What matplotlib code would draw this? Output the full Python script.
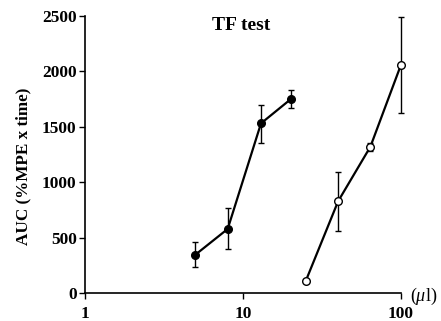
import matplotlib
matplotlib.use("Agg")
import matplotlib.pyplot as plt
from matplotlib.ticker import FixedLocator, NullLocator

# Data
dose_filled = [5, 8, 13, 20]
auc_filled = [346, 578, 1531, 1748]
err_lo_filled = [109, 184, 180, 76]
err_hi_filled = [111, 192, 166, 81]

dose_open = [25, 40, 64, 100]
auc_open = [111, 828, 1320, 2060]
err_lo_open = [0, 268, 35, 433]
err_hi_open = [0, 267, 35, 431]

x_ticks = [1, 10, 100]
x_ticklabels = ["1", "10", "100"]
y_ticks = [0, 500, 1000, 1500, 2000, 2500]

plt.rcParams['font.family'] = ['Liberation Serif', 'DejaVu Serif']
plt.rcParams['mathtext.fontset'] = 'custom'
plt.rcParams['mathtext.it'] = 'Liberation Serif:italic'
plt.rcParams['mathtext.rm'] = 'Liberation Serif'

fig = plt.figure(figsize=(4.41, 3.21), dpi=100)
ax = fig.add_axes([85/441, 1-293/321, (401-85)/441, (293-16)/321])

for d, a, lo, hi, face in [(dose_filled, auc_filled, err_lo_filled, err_hi_filled, 'black'),
                           (dose_open, auc_open, err_lo_open, err_hi_open, 'white')]:
    cont = ax.errorbar(d, a, yerr=[lo, hi],
                       fmt='o-', color='black', mfc=face, mec='black', ms=5.5, mew=1.0, lw=1.6,
                       ecolor='black', elinewidth=1.0, capsize=2.2, capthick=1.0, zorder=3)
    for art in cont.get_children():
        art.set_clip_on(False)

ax.set_xscale('log')
ax.set_xlim(1, 100)
ax.set_ylim(0, 2500)
ax.xaxis.set_major_locator(FixedLocator(x_ticks))
ax.xaxis.set_minor_locator(NullLocator())
ax.set_xticklabels(x_ticklabels)
ax.set_yticks(y_ticks)

for s in ['top', 'right']:
    ax.spines[s].set_visible(False)
ax.spines['left'].set_linewidth(1.2)
ax.spines['bottom'].set_linewidth(1.2)
ax.tick_params(axis='both', direction='out', length=4, width=1.0,
               labelsize=12.5)
ax.tick_params(axis='y', pad=2)
ax.tick_params(axis='x', pad=5)
for lbl in ax.get_xticklabels() + ax.get_yticklabels():
    lbl.set_fontweight('bold')

ax.set_ylabel('AUC (%MPE x time)', fontsize=12.3, fontweight='bold')
ax.yaxis.set_label_coords(31/441, 1-166/321, transform=fig.transFigure)
fig.text(241/441, 1-25/321, 'TF test', ha='center', va='center',
         fontsize=14, fontweight='bold')
fig.text(410/441, 1-296/321, r'($\mathit{\mu}$l)', ha='left', va='center', fontsize=13)

fig.savefig('out.png', dpi=100)
